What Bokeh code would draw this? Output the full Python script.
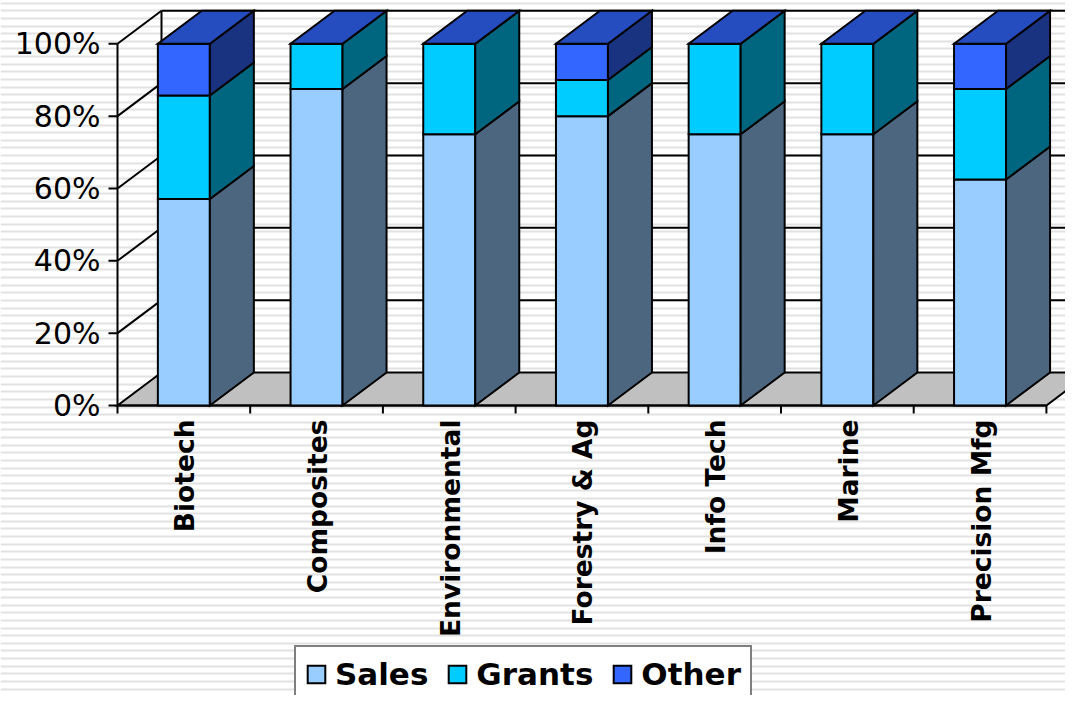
import math
import numpy as np
from bokeh.plotting import figure
from bokeh.models import Range1d, Legend, LegendItem
from bokeh.core.properties import value
from bokeh.embed import file_html
from bokeh.resources import INLINE

# ---------------- data ----------------
categories = ["Biotech", "Composites", "Environmental", "Forestry & Ag",
              "Info Tech", "Marine", "Precision Mfg"]
series_names = ["Sales", "Grants", "Other"]
sales = [57.1, 87.5, 75.0, 80.0, 75.0, 75.0, 62.5]
grants = [28.6, 12.5, 25.0, 10.0, 25.0, 25.0, 25.0]
other = [14.3, 0.0, 0.0, 10.0, 0.0, 0.0, 12.5]
y_ticks = [0, 20, 40, 60, 80, 100]
y_tick_labels = ["0%", "20%", "40%", "60%", "80%", "100%"]

# ---------------- style ----------------
front_colors = ["#99CCFF", "#00CCFF", "#3366FF"]
side_colors = ["#4C6680", "#006680", "#1A3380"]
top_color = "#264DBF"
floor_color = "#C0C0C0"
stripe_color = "#E2E2E2"
FONT = value("DejaVu Sans")

W, H = 1065, 695
x_start, x_end = -0.8817, 7.1439
y_start, y_end = -80.18, 111.97
ppx = W / (x_end - x_start)     # pixels per category
ppy = H / (y_end - y_start)     # pixels per percent
DX = 44 / ppx                   # 3-D depth offset (x)
DY = 33 / ppy                   # 3-D depth offset (y)
BAR_W = 52 / ppx
TICK_X = 9 / ppx
TICK_Y = 8 / ppy
LW = 2

p = figure(width=W, height=H, output_backend="svg", toolbar_location=None,
           x_range=Range1d(x_start, x_end), y_range=Range1d(y_start, y_end),
           min_border=0, x_axis_location=None, y_axis_location=None)
p.grid.visible = False
p.outline_line_color = None
p.background_fill_color = "white"
p.border_fill_color = "white"

# striped page background
stripe_px = np.arange(2.7, 700, 7.62)
stripe_y = y_end - stripe_px / ppy
p.hspan(y=stripe_y, line_color=stripe_color, line_width=2)

n = len(categories)
# walls: gridlines on back wall and side wall
for v in y_ticks[1:]:
    p.segment(x0=DX, y0=v + DY, x1=n + DX, y1=v + DY, line_color="black", line_width=LW)
    p.segment(x0=0, y0=v, x1=DX, y1=v + DY, line_color="black", line_width=LW)
p.segment(x0=DX, y0=DY, x1=DX, y1=100 + DY, line_color="black", line_width=LW)

# floor
p.patch(x=[0, n, n + DX, DX], y=[0, 0, DY, DY], fill_color=floor_color,
        line_color="black", line_width=LW, line_join="miter")

# value axis
p.segment(x0=0, y0=0, x1=0, y1=100, line_color="black", line_width=LW)
p.segment(x0=[-TICK_X] * len(y_ticks), y0=y_ticks, x1=[0] * len(y_ticks), y1=y_ticks,
          line_color="black", line_width=LW)
p.text(x=[0] * len(y_ticks), y=y_ticks, text=y_tick_labels, x_offset=-17,
       text_font=FONT, text_font_size="30px", text_color="black",
       text_align="right", text_baseline="middle")

# category axis
p.segment(x0=0, y0=0, x1=n, y1=0, line_color="black", line_width=LW)
p.segment(x0=list(range(n + 1)), y0=[0] * (n + 1), x1=list(range(n + 1)),
          y1=[-TICK_Y] * (n + 1), line_color="black", line_width=LW)
centers = [i + 0.5 for i in range(n)]
p.text(x=centers, y=[0] * n, text=categories, y_offset=14, x_offset=1, angle=math.pi / 2,
       text_font=FONT, text_font_size="26.5px", text_font_style="bold",
       text_color="black", text_align="right", text_baseline="middle")

# stacked 100% bars
series = [sales, grants, other]
totals = [sum(s[i] for s in series) for i in range(n)]
base = [0.0] * n
left = [c - BAR_W / 2 for c in centers]
right = [c + BAR_W / 2 for c in centers]
front_renderers = []
for k, vals in enumerate(series):
    pct = [vals[i] / totals[i] * 100 for i in range(n)]
    bottoms = base[:]
    tops = [bottoms[i] + pct[i] for i in range(n)]
    r = p.quad(left=left, right=right, bottom=bottoms, top=tops,
               fill_color=front_colors[k], line_color="black", line_width=LW,
               line_join="miter")
    front_renderers.append(r)
    xs = [[right[i], right[i] + DX, right[i] + DX, right[i]] for i in range(n)]
    ys = [[bottoms[i], bottoms[i] + DY, tops[i] + DY, tops[i]] for i in range(n)]
    p.patches(xs=xs, ys=ys, fill_color=side_colors[k], line_color="black",
              line_width=LW, line_join="miter")
    base = tops

# top faces
xs = [[left[i], left[i] + DX, right[i] + DX, right[i]] for i in range(n)]
ys = [[base[i], base[i] + DY, base[i] + DY, base[i]] for i in range(n)]
p.patches(xs=xs, ys=ys, fill_color=top_color, line_color="black", line_width=LW,
          line_join="miter")

legend = Legend(
    items=[LegendItem(label=series_names[k], renderers=[front_renderers[k]]) for k in range(3)],
    orientation="horizontal", location=(294, -8), margin=0,
    padding=9, spacing=18, label_standoff=8,
    glyph_width=22, glyph_height=22,
    label_text_font="DejaVu Sans", label_text_font_style="bold",
    label_text_font_size="31px", label_text_color="black",
    border_line_color="black", border_line_width=2,
    background_fill_color="white", background_fill_alpha=1.0,
)
p.add_layout(legend, "center")

open("out.html", "w").write(file_html(p, INLINE))
